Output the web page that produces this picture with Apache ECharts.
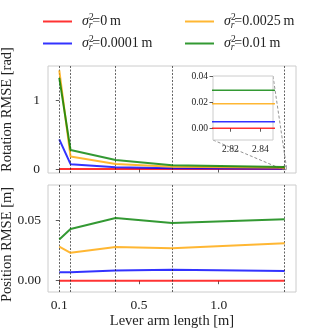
<!DOCTYPE html>
<html><head><meta charset="utf-8">
<script src="https://cdn.jsdelivr.net/npm/echarts@6/dist/echarts.min.js"></script>
<style>html,body{margin:0;padding:0;background:#fff}#c{width:329px;height:329px}</style>
</head><body><div id="c"></div>
<script>
// ---- data ----
const leverArm = [0, 0.0707, 0.3536, 0.7071, 1.4142];
const noiseLevels = ['0', '0.0001', '0.0025', '0.01'];
const rotRed    = [0, 0, 0, 0, 0];
const rotBlue   = [0.43, 0.07, 0.025, 0.01, 0.005];
const rotOrange = [1.43, 0.18, 0.072, 0.033, 0.019];
const rotGreen  = [1.32, 0.275, 0.13, 0.055, 0.029];
const posRed    = [0, 0, 0, 0, 0];
const posBlue   = [0.0069, 0.007, 0.0083, 0.009, 0.008];
const posOrange = [0.028, 0.023, 0.0278, 0.0267, 0.0308];
const posGreen  = [0.034, 0.0426, 0.0516, 0.0475, 0.0506];
const insetX      = [2.79, 2.87];
const insetRed    = [0, 0];
const insetBlue   = [0.005, 0.005];
const insetOrange = [0.0187, 0.0187];
const insetGreen  = [0.0291, 0.0291];
const insetMark = 2.8284;
const xTickValues = [0, 0.5, 1.0];
const xTickLabels = ['0.1', '0.5', '1.0'];
const rotTicks = [0, 1];
const posTicks = [0, 0.05];
const insetYTicks = [0, 0.02, 0.04];
const insetXTicks = [2.82, 2.84];
const insetXRange = [2.8084, 2.8484];
const insetYRange = [-0.009, 0.04];
const zoomRectX = [1.404, 1.424];

// ---- styling ----
const colors = ['rgba(255,0,0,0.8)', 'rgba(0,0,255,0.8)', 'rgba(255,165,0,0.8)', 'rgba(0,128,0,0.8)'];
const FF = '"Liberation Serif", "DejaVu Serif", serif';
const chart = echarts.init(document.getElementById('c'), null, {renderer: 'canvas'});

function zip(xs, ys) { return xs.map((x, i) => [x, ys[i]]); }
const rotSets = [rotRed, rotBlue, rotOrange, rotGreen];
const posSets = [posRed, posBlue, posOrange, posGreen];
const insetSets = [insetRed, insetBlue, insetOrange, insetGreen];

const vline = (xs) => ({
  silent: true, symbol: 'none', animation: false,
  label: {show: false},
  lineStyle: {color: '#222', width: 0.7, type: [2, 1.5]},
  data: xs.map(x => ({xAxis: x}))
});

const series = [];
noiseLevels.forEach((n, i) => {
  const base = {type: 'line', name: n, showSymbol: false, symbol: 'none', animation: false,
    lineStyle: {width: 2, color: colors[i]}, itemStyle: {color: colors[i]}, z: 3 + i};
  series.push(Object.assign({}, base, {xAxisIndex: 0, yAxisIndex: 0, data: zip(leverArm, rotSets[i]),
    markLine: i === 0 ? vline(leverArm) : undefined}));
  series.push(Object.assign({}, base, {xAxisIndex: 1, yAxisIndex: 1, data: zip(leverArm, posSets[i]),
    markLine: i === 0 ? vline(leverArm) : undefined}));
  series.push(Object.assign({}, base, {xAxisIndex: 2, yAxisIndex: 2, data: zip(insetX, insetSets[i]), clip: true, z: 20 + i, lineStyle: {width: 1.5, color: colors[i]},
    markLine: i === 0 ? {silent: true, symbol: 'none', animation: false, label: {show: false},
      lineStyle: {color: '#000', width: 1, type: [4, 2]}, data: [{xAxis: insetMark}]} : undefined}));
});

const tickStyle = {show: true, length: 3.5, lineStyle: {color: '#333', width: 0.8}};
const labelStyle = {fontFamily: FF, fontSize: 13.5, color: '#222'};
const insetLabelStyle = {fontFamily: FF, fontSize: 9.5, color: '#222'};

const rich = {
  s: {fontFamily: FF, fontStyle: 'italic', fontSize: 14, color: '#222'},
  t: {fontFamily: FF, fontSize: 9.5, color: '#222', padding: [0, -5, 9, 0]},
  r: {fontFamily: FF, fontStyle: 'italic', fontSize: 9.5, color: '#222', padding: [7, 0, 0, 0]},
  n: {fontFamily: FF, fontSize: 14, color: '#222'}
};
const legendFmt = name => '{s|σ}{t|2}{r|r}{n|=' + name + '\u2009m}';
const legendBase = {orient: 'vertical', itemWidth: 29, itemHeight: 2, icon: 'rect', itemGap: 4, padding: 0,
  formatter: legendFmt, textStyle: {rich: rich, padding: [0, 0, 0, 5]}, selectedMode: false};

const nameStyle = {fontFamily: FF, fontSize: 14.5, color: '#222'};

chart.setOption({
  animation: false,
  backgroundColor: '#fff',
  legend: [
    Object.assign({left: 43, top: 12, data: [noiseLevels[0], noiseLevels[1]]}, legendBase),
    Object.assign({left: 185, top: 12, data: [noiseLevels[2], noiseLevels[3]]}, legendBase)
  ],
  grid: [
    {left: 48, top: 66, width: 248, height: 107, show: true, borderColor: '#cccccc', borderWidth: 1, outerBoundsMode: 'none', containLabel: false},
    {left: 48, top: 185, width: 248, height: 107, show: true, borderColor: '#cccccc', borderWidth: 1, outerBoundsMode: 'none', containLabel: false},
    {left: 213, top: 76, width: 60, height: 64, show: true, borderColor: '#cccccc', borderWidth: 1, backgroundColor: '#fff', z: 10, outerBoundsMode: 'none', containLabel: false}
  ],
  xAxis: [
    {gridIndex: 0, type: 'value', min: -0.0707, max: 1.4849, axisLine: {show: false},
      axisTick: Object.assign({customValues: xTickValues}, tickStyle), axisLabel: {show: false}, splitLine: {show: false}},
    {gridIndex: 1, type: 'value', min: -0.0707, max: 1.4849, axisLine: {show: false},
      axisTick: Object.assign({customValues: xTickValues}, tickStyle),
      axisLabel: Object.assign({customValues: xTickValues, margin: 6, formatter: v => xTickLabels[xTickValues.indexOf(v)] ?? ''}, labelStyle),
      splitLine: {show: false}, nameMoveOverlap: false,
      name: 'Lever arm length [m]', nameLocation: 'middle', nameGap: 22, nameTextStyle: nameStyle},
    {gridIndex: 2, type: 'value', min: insetXRange[0], max: insetXRange[1], axisLine: {show: false}, z: 11,
      axisTick: Object.assign({customValues: insetXTicks}, tickStyle),
      axisLabel: Object.assign({customValues: insetXTicks, margin: 4, formatter: v => v.toFixed(2)}, insetLabelStyle),
      splitLine: {show: false}}
  ],
  yAxis: [
    {gridIndex: 0, type: 'value', min: -0.058, max: 1.493, axisLine: {show: false},
      axisTick: Object.assign({customValues: rotTicks}, tickStyle),
      axisLabel: Object.assign({customValues: rotTicks, margin: 8}, labelStyle), splitLine: {show: false},
      name: 'Rotation RMSE [rad]', nameLocation: 'middle', nameGap: 33, nameMoveOverlap: false,
      nameTextStyle: Object.assign({padding: [0, 0, 0, 20]}, nameStyle)},
    {gridIndex: 1, type: 'value', min: -0.0093, max: 0.0788, axisLine: {show: false},
      axisTick: Object.assign({customValues: posTicks}, tickStyle),
      axisLabel: Object.assign({customValues: posTicks, margin: 7, formatter: v => v.toFixed(2)}, labelStyle), splitLine: {show: false},
      name: 'Position RMSE [m]', nameLocation: 'middle', nameGap: 33, nameMoveOverlap: false,
      nameTextStyle: Object.assign({padding: [0, 12, 0, 0]}, nameStyle)},
    {gridIndex: 2, type: 'value', min: insetYRange[0], max: insetYRange[1], axisLine: {show: false}, z: 11,
      axisTick: Object.assign({customValues: insetYTicks}, tickStyle),
      axisLabel: Object.assign({customValues: insetYTicks, margin: 5, formatter: v => v.toFixed(2)}, insetLabelStyle), splitLine: {show: false}}
  ],
  series: series
});

// inset zoom indicator (rectangle + connectors)
const mainF = {xAxisIndex: 0, yAxisIndex: 0};
const insF = {xAxisIndex: 2, yAxisIndex: 2};
const rBL = chart.convertToPixel(mainF, [zoomRectX[0], insetYRange[0]]);
const rTR = chart.convertToPixel(mainF, [zoomRectX[1], insetYRange[1]]);
const iBL = chart.convertToPixel(insF, [insetXRange[0], insetYRange[0]]);
const iTR = chart.convertToPixel(insF, [insetXRange[1], insetYRange[1]]);
const gStyle = {stroke: '#777', lineWidth: 0.8, lineDash: [3, 2], fill: null};
chart.setOption({
  graphic: [
    {type: 'line', z: 5, shape: {x1: iBL[0], y1: iBL[1], x2: rBL[0], y2: rBL[1]}, style: gStyle, silent: true},
    {type: 'line', z: 5, shape: {x1: iTR[0], y1: iTR[1], x2: rTR[0], y2: rTR[1]}, style: gStyle, silent: true},
    {type: 'rect', z: 5, shape: {x: rBL[0], y: rTR[1], width: rTR[0] - rBL[0], height: rBL[1] - rTR[1]}, style: {stroke: '#777', lineWidth: 0.8, fill: null}, silent: true}
  ]
});
</script>
</body></html>
